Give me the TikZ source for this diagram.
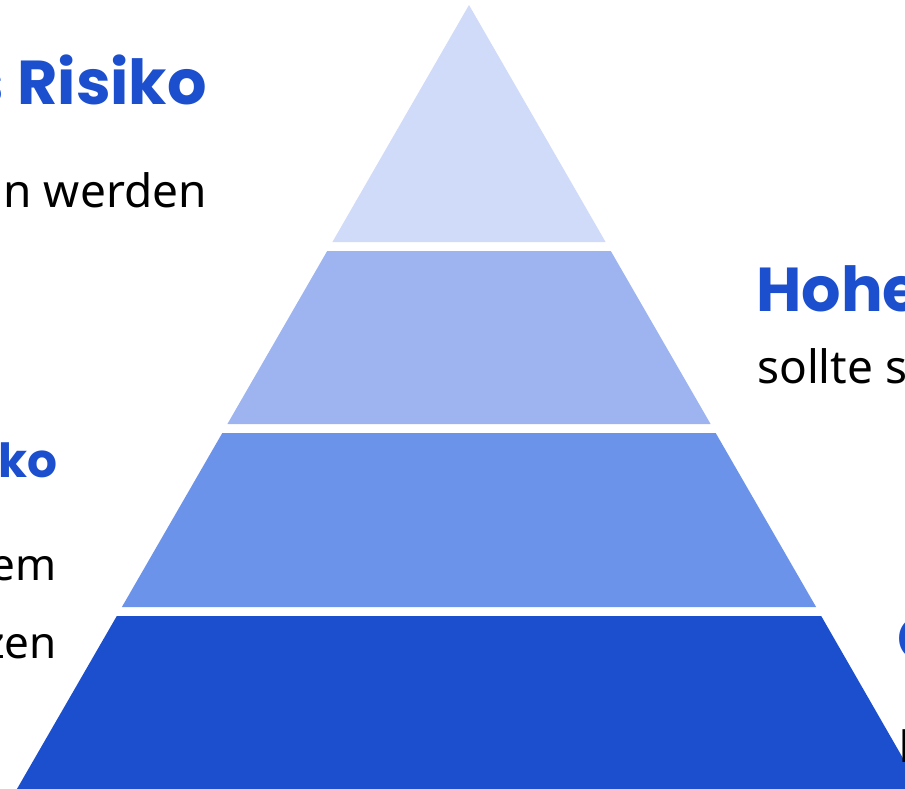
\documentclass[tikz,border=0pt]{standalone}
\usepackage{fontspec}
\setmainfont{Noto Sans}
\newfontfamily\headfont{Poppins}
\usepackage{tikz}
\usetikzlibrary{positioning}
\definecolor{bandA}{HTML}{CFDBF8}
\definecolor{bandB}{HTML}{9DB4F1}
\definecolor{bandC}{HTML}{6C93EA}
\definecolor{bandD}{HTML}{1B4FCE}

\begin{document}
\begin{tikzpicture}[x=1pt, y=-1pt,
    headtext/.style={inner sep=0pt, text=bandD, font=\headfont\bfseries\fontsize{62}{68}\selectfont},
    smallhead/.style={inner sep=0pt, text=bandD, font=\headfont\bfseries\fontsize{47}{52}\selectfont},
    bodytext/.style={inner sep=0pt, text=black, font=\fontsize{46}{52}\selectfont}]
    \useasboundingbox (0,0) rectangle (905,789);
    \clip (0,0) rectangle (905,789);

    %Bands
    \fill[bandA] (469,5) -- (605.6,242) -- (332.4,242) -- cycle;
    \fill[bandB] (327.2,251) -- (610.8,251) -- (710.6,424) -- (227.4,424) -- cycle;
    \fill[bandC] (222.3,433) -- (715.7,433) -- (816.1,607) -- (121.9,607) -- cycle;
    \fill[bandD] (116.8,616) -- (821.2,616) -- (927,800) -- (10.6,800) -- cycle;

    %Labels
    \node[headtext, anchor=base east] (risk1)  at (207,105) {s Risiko};
    \node[bodytext, anchor=base east] (text1)  at (207,207) {n werden};
    \node[smallhead, anchor=base east] (risk3) at (58,477)  {ko};
    \node[bodytext, anchor=base east, font=\fontsize{44}{50}\selectfont] (text3a) at (57,580) {em};
    \node[bodytext, anchor=base east, font=\fontsize{44}{50}\selectfont] (text3b) at (57,658) {zen};
    \node[headtext, anchor=base west] (risk2)  at (756,311) {Hohe};
    \node[bodytext, anchor=base west] (text2)  at (757,383) {sollte s};
    \node[headtext, anchor=base west] (risk4)  at (897,660) {G};
    \node[bodytext, anchor=base west] (text4)  at (898,762) {K};
\end{tikzpicture}
\end{document}
